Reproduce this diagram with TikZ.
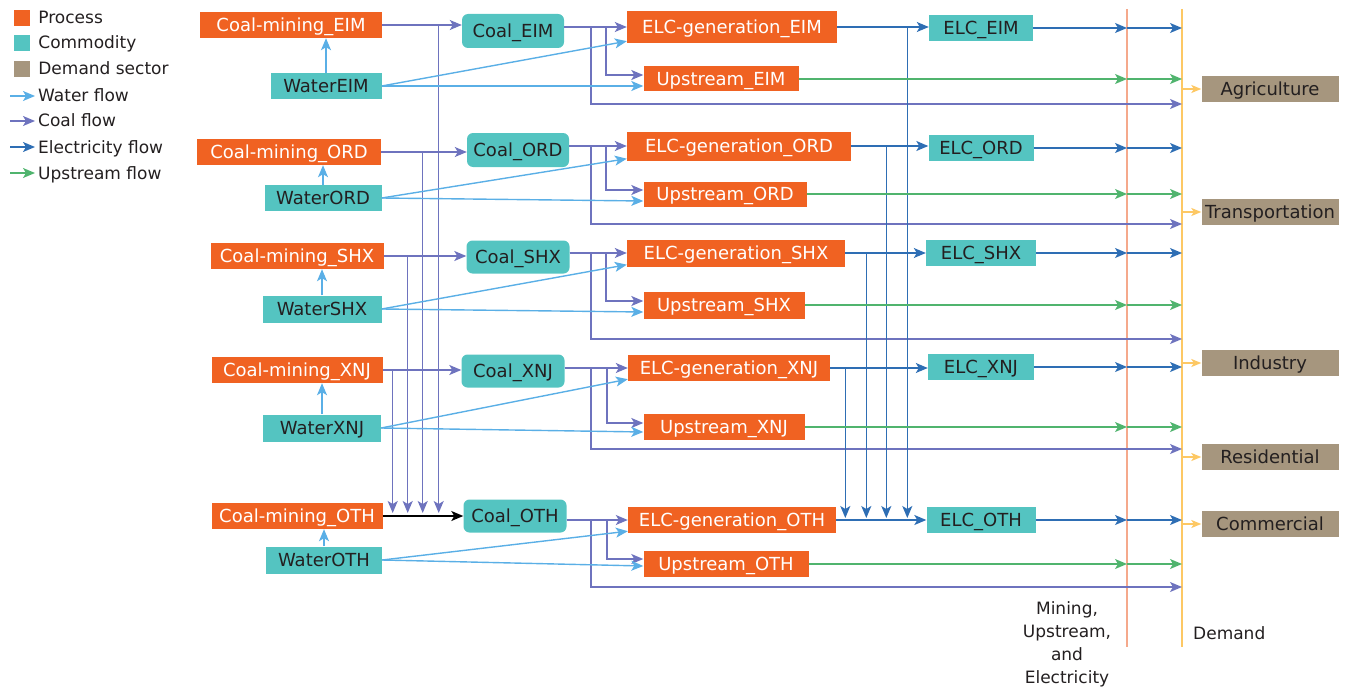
\documentclass[tikz,border=0pt]{standalone}
\usepackage{fontspec}
\setmainfont{DejaVu Sans}
\usepackage{tikz}
\usetikzlibrary{arrows.meta, positioning, calc}
\definecolor{procorange}{HTML}{F06222}
\definecolor{commteal}{HTML}{54C4C1}
\definecolor{demandbrown}{HTML}{A6967E}
\definecolor{textdark}{HTML}{231F20}
\definecolor{waterblue}{HTML}{5AAFE6}
\definecolor{coalpurple}{HTML}{6E73BE}
\definecolor{elcblue}{HTML}{2E6EB4}
\definecolor{upgreen}{HTML}{50B46E}
\definecolor{minesalmon}{HTML}{F5A98C}
\definecolor{demandyellow}{HTML}{FDC864}

\begin{document}
\begin{tikzpicture}[
    x=1pt, y=-1pt,
    box/.style={rectangle, inner sep=0pt, minimum height=26pt, text height=13pt, text depth=0pt, font=\fontsize{18}{20}\selectfont},
    process/.style={box, fill=procorange, text=white},
    commodity/.style={box, fill=commteal, text=textdark},
    coalbox/.style={commodity, rounded corners=6pt, minimum height=34pt},
    sector/.style={box, fill=demandbrown, text=textdark, minimum width=137pt},
    legsq/.style={rectangle, minimum size=16pt, inner sep=0pt},
    legtxt/.style={inner sep=0pt, text height=12pt, text depth=0pt, font=\fontsize{17}{20}\selectfont, text=textdark},
    lbl/.style={inner sep=0pt, align=center, font=\fontsize{17}{23}\selectfont, text=textdark},
    flow/.style={-{Stealth[length=12pt, width=10pt, inset=3pt]}, line width=1.4pt},
    waterflow/.style={flow, color=waterblue},
    coalflow/.style={flow, color=coalpurple},
    elcflow/.style={flow, color=elcblue},
    upflow/.style={flow, color=upgreen},
    sectorflow/.style={-{Stealth[length=10pt, width=8pt, inset=2.5pt]}, line width=1.4pt, color=demandyellow},
]
\useasboundingbox (0,0) rectangle (1348,690);

% Legend
\node[legsq, fill=procorange] (lgProc) at (22,18) {};
\node[legtxt, right=8pt of lgProc] (lgProcT) {Process};
\node[legsq, fill=commteal] (lgComm) at (22,43) {};
\node[legtxt, right=8pt of lgComm] (lgCommT) {Commodity};
\node[legsq, fill=demandbrown] (lgDem) at (22,69) {};
\node[legtxt, right=8pt of lgDem] (lgDemT) {Demand sector};
\node[legtxt, anchor=west] (lgWater) at (38,96) {Water flow};
\node[legtxt, anchor=west] (lgCoal) at (38,121) {Coal flow};
\node[legtxt, anchor=west] (lgElc) at (38,147) {Electricity flow};
\node[legtxt, anchor=west] (lgUp) at (38,173) {Upstream flow};
\draw[waterflow] ([xshift=-28pt]lgWater.west) -- ([xshift=-3pt]lgWater.west);
\draw[coalflow] ([xshift=-28pt]lgCoal.west) -- ([xshift=-3pt]lgCoal.west);
\draw[elcflow] ([xshift=-28pt]lgElc.west) -- ([xshift=-3pt]lgElc.west);
\draw[upflow] ([xshift=-28pt]lgUp.west) -- ([xshift=-3pt]lgUp.west);

% Region columns
\coordinate (mtop) at (1127,9);
\coordinate (mbot) at (1127,647);
\coordinate (dtop) at (1182,9);
\coordinate (dbot) at (1182,647);
\draw[minesalmon, line width=1.4pt] (mtop) -- (mbot);
\draw[demandyellow, line width=1.4pt] (dtop) -- (dbot);
\node[lbl] (lblMine) at (1067,644) {Mining,\\Upstream,\\and\\Electricity};
\node[lbl, anchor=west] (lblDem) at (1193,633) {Demand};

% EIM
\node[process, minimum width=182pt] (mEIM) at (291,25) {Coal-mining\_EIM};
\node[commodity, minimum width=111pt] (wEIM) at (326,86) {WaterEIM};
\node[coalbox, minimum width=102pt] (cEIM) at (513,31) {Coal\_EIM};
\node[process, minimum width=210pt, minimum height=32pt] (gEIM) at (732,27) {ELC-generation\_EIM};
\node[process, minimum width=155pt, minimum height=25pt] (uEIM) at (721,79) {Upstream\_EIM};
\node[commodity, minimum width=104pt] (eEIM) at (981,28) {ELC\_EIM};
\coordinate (lEIM) at (591,104);

% ORD
\node[process, minimum width=184pt] (mORD) at (289,152) {Coal-mining\_ORD};
\node[commodity, minimum width=117pt] (wORD) at (323,198) {WaterORD};
\node[coalbox, minimum width=102pt] (cORD) at (518,150) {Coal\_ORD};
\node[process, minimum width=224pt, minimum height=29pt] (gORD) at (739,146) {ELC-generation\_ORD};
\node[process, minimum width=163pt, minimum height=25pt] (uORD) at (725,194) {Upstream\_ORD};
\node[commodity, minimum width=105pt] (eORD) at (981,148) {ELC\_ORD};
\coordinate (lORD) at (591,224);

% SHX
\node[process, minimum width=173pt] (mSHX) at (297,256) {Coal-mining\_SHX};
\node[commodity, minimum width=119pt, minimum height=27pt] (wSHX) at (322,309) {WaterSHX};
\node[coalbox, minimum width=103pt, minimum height=33pt] (cSHX) at (518,257) {Coal\_SHX};
\node[process, minimum width=218pt, minimum height=27pt] (gSHX) at (736,253) {ELC-generation\_SHX};
\node[process, minimum width=161pt, minimum height=27pt] (uSHX) at (724,305) {Upstream\_SHX};
\node[commodity, minimum width=110pt] (eSHX) at (981,253) {ELC\_SHX};
\coordinate (lSHX) at (591,339);

% XNJ
\node[process, minimum width=171pt] (mXNJ) at (297,370) {Coal-mining\_XNJ};
\node[commodity, minimum width=118pt, minimum height=27pt] (wXNJ) at (322,428) {WaterXNJ};
\node[coalbox, minimum width=103pt, minimum height=33pt] (cXNJ) at (513,371) {Coal\_XNJ};
\node[process, minimum width=202pt] (gXNJ) at (729,368) {ELC-generation\_XNJ};
\node[process, minimum width=161pt] (uXNJ) at (724,427) {Upstream\_XNJ};
\node[commodity, minimum width=106pt] (eXNJ) at (981,367) {ELC\_XNJ};
\coordinate (lXNJ) at (591,449);

% OTH
\node[process, minimum width=171pt] (mOTH) at (297,516) {Coal-mining\_OTH};
\node[commodity, minimum width=116pt, minimum height=27pt] (wOTH) at (324,560) {WaterOTH};
\node[coalbox, minimum width=103pt, minimum height=33pt] (cOTH) at (515,516) {Coal\_OTH};
\node[process, minimum width=208pt] (gOTH) at (732,520) {ELC-generation\_OTH};
\node[process, minimum width=165pt] (uOTH) at (726,564) {Upstream\_OTH};
\node[commodity, minimum width=109pt] (eOTH) at (981,520) {ELC\_OTH};
\coordinate (lOTH) at (591,587);

% Demand sectors
\node[sector] (agri) at (1270,89) {Agriculture};
\node[sector] (trans) at (1270,212) {Transportation};
\node[sector] (indu) at (1270,363) {Industry};
\node[sector] (resi) at (1270,457) {Residential};
\node[sector] (comm) at (1270,524) {Commercial};

% Arrows: water to mining
\draw[waterflow] (wEIM.north) -- (wEIM.north |- mEIM.south);
\draw[waterflow] (wORD.north) -- (wORD.north |- mORD.south);
\draw[waterflow] (wSHX.north) -- (wSHX.north |- mSHX.south);
\draw[waterflow] (wXNJ.north) -- (wXNJ.north |- mXNJ.south);
\draw[waterflow] (wOTH.north) -- (wOTH.north |- mOTH.south);

% Arrows: mining to coal
\draw[coalflow] (mEIM.east) -- (mEIM.east -| cEIM.west);
\draw[coalflow] (mORD.east) -- (mORD.east -| cORD.west);
\draw[coalflow] (mSHX.east) -- (mSHX.east -| cSHX.west);
\draw[coalflow] (mXNJ.east) -- (mXNJ.east -| cXNJ.west);
\draw[coalflow] (mEIM.east) -| ([xshift=56pt, yshift=3pt]mOTH.east);
\draw[coalflow] (mORD.east) -| ([xshift=40pt, yshift=3pt]mOTH.east);
\draw[coalflow] (mSHX.east) -| ([xshift=25pt, yshift=3pt]mOTH.east);
\draw[coalflow] (mXNJ.east) -| ([xshift=10pt, yshift=3pt]mOTH.east);
\draw[flow, black] (mOTH.east) -- (mOTH.east -| cOTH.west);

% Arrows: coal to generation, upstream and demand
\draw[coalflow] (gEIM.west -| cEIM.east) -- (gEIM.west);
\draw[coalflow] ([xshift=-21pt]gEIM.west) |- ([yshift=4pt]uEIM.west);
\draw[coalflow] (gEIM.west -| cEIM.east) -| (lEIM) -- (dtop |- lEIM);
\draw[coalflow] (gORD.west -| cORD.east) -- (gORD.west);
\draw[coalflow] ([xshift=-21pt]gORD.west) |- ([yshift=4pt]uORD.west);
\draw[coalflow] (gORD.west -| cORD.east) -| (lORD) -- (dtop |- lORD);
\draw[coalflow] (gSHX.west -| cSHX.east) -- (gSHX.west);
\draw[coalflow] ([xshift=-21pt]gSHX.west) |- ([yshift=4pt]uSHX.west);
\draw[coalflow] (gSHX.west -| cSHX.east) -| (lSHX) -- (dtop |- lSHX);
\draw[coalflow] (gXNJ.west -| cXNJ.east) -- (gXNJ.west);
\draw[coalflow] ([xshift=-21pt]gXNJ.west) |- ([yshift=4pt]uXNJ.west);
\draw[coalflow] (gXNJ.west -| cXNJ.east) -| (lXNJ) -- (dtop |- lXNJ);
\draw[coalflow] (gOTH.west -| cOTH.east) -- (gOTH.west);
\draw[coalflow] ([xshift=-21pt]gOTH.west) |- ([yshift=5pt]uOTH.west);
\draw[coalflow] (gOTH.west -| cOTH.east) -| (lOTH) -- (dtop |- lOTH);

% Arrows: water to generation and upstream
\draw[waterflow] (wEIM.east) -- ([yshift=2pt]gEIM.south west);
\draw[waterflow] (wEIM.east) -- ([yshift=-7pt]uEIM.west);
\draw[waterflow] (wORD.east) -- ([yshift=2pt]gORD.south west);
\draw[waterflow] (wORD.east) -- ([yshift=-7pt]uORD.west);
\draw[waterflow] (wSHX.east) -- ([yshift=2pt]gSHX.south west);
\draw[waterflow] (wSHX.east) -- ([yshift=-7pt]uSHX.west);
\draw[waterflow] (wXNJ.east) -- ([yshift=2pt]gXNJ.south west);
\draw[waterflow] (wXNJ.east) -- ([yshift=-5pt]uXNJ.west);
\draw[waterflow] (wOTH.east) -- ([yshift=2pt]gOTH.south west);
\draw[waterflow] (wOTH.east) -- ([yshift=-2pt]uOTH.west);

% Arrows: generation to ELC
\draw[elcflow] (gEIM.east) -- (gEIM.east -| eEIM.west);
\draw[elcflow] (gORD.east) -- (gORD.east -| eORD.west);
\draw[elcflow] (gSHX.east) -- (gSHX.east -| eSHX.west);
\draw[elcflow] (gXNJ.east) -- (gXNJ.east -| eXNJ.west);
\draw[elcflow] (gOTH.east) -- (gOTH.east -| eOTH.west);
\draw[elcflow] (gEIM.east) -| ([xshift=-19pt, yshift=2pt]eOTH.west);
\draw[elcflow] (gORD.east) -| ([xshift=-40pt, yshift=2pt]eOTH.west);
\draw[elcflow] (gSHX.east) -| ([xshift=-60pt, yshift=2pt]eOTH.west);
\draw[elcflow] (gXNJ.east) -| ([xshift=-81pt, yshift=2pt]eOTH.west);

% Arrows: ELC and upstream to columns
\draw[elcflow] (eEIM.east) -- (mtop |- eEIM.east);
\draw[elcflow] (mtop |- eEIM.east) -- (dtop |- eEIM.east);
\draw[elcflow] (eORD.east) -- (mtop |- eORD.east);
\draw[elcflow] (mtop |- eORD.east) -- (dtop |- eORD.east);
\draw[elcflow] (eSHX.east) -- (mtop |- eSHX.east);
\draw[elcflow] (mtop |- eSHX.east) -- (dtop |- eSHX.east);
\draw[elcflow] (eXNJ.east) -- (mtop |- eXNJ.east);
\draw[elcflow] (mtop |- eXNJ.east) -- (dtop |- eXNJ.east);
\draw[elcflow] (eOTH.east) -- (mtop |- eOTH.east);
\draw[elcflow] (mtop |- eOTH.east) -- (dtop |- eOTH.east);
\draw[upflow] (uEIM.east) -- (mtop |- uEIM.east);
\draw[upflow] (mtop |- uEIM.east) -- (dtop |- uEIM.east);
\draw[upflow] (uORD.east) -- (mtop |- uORD.east);
\draw[upflow] (mtop |- uORD.east) -- (dtop |- uORD.east);
\draw[upflow] (uSHX.east) -- (mtop |- uSHX.east);
\draw[upflow] (mtop |- uSHX.east) -- (dtop |- uSHX.east);
\draw[upflow] (uXNJ.east) -- (mtop |- uXNJ.east);
\draw[upflow] (mtop |- uXNJ.east) -- (dtop |- uXNJ.east);
\draw[upflow] (uOTH.east) -- (mtop |- uOTH.east);
\draw[upflow] (mtop |- uOTH.east) -- (dtop |- uOTH.east);

% Arrows: demand line to sectors
\draw[sectorflow] (dtop |- agri.west) -- (agri.west);
\draw[sectorflow] (dtop |- trans.west) -- (trans.west);
\draw[sectorflow] (dtop |- indu.west) -- (indu.west);
\draw[sectorflow] (dtop |- resi.west) -- (resi.west);
\draw[sectorflow] (dtop |- comm.west) -- (comm.west);

\end{tikzpicture}
\end{document}
